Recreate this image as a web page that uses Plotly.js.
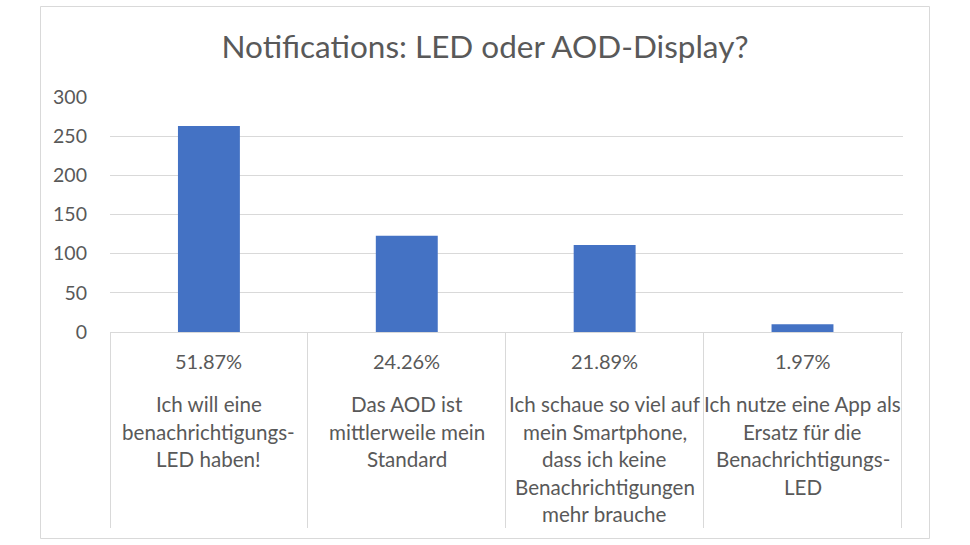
<!DOCTYPE html>
<html>
<head>
<meta charset="utf-8">
<script src="https://cdn.plot.ly/plotly-3.0.1.min.js"></script>
<style>
html,body{margin:0;padding:0;background:#fff;}
#chart{width:970px;height:545px;}
</style>
</head>
<body>
<div id="chart"></div>
<script>
const categories = [
  "Ich will eine<br>benachrichtigungs-<br>LED haben!",
  "Das AOD ist<br>mittlerweile mein<br>Standard",
  "Ich schaue so viel auf<br>mein Smartphone,<br>dass ich keine<br>Benachrichtigungen<br>mehr brauche",
  "Ich nutze eine App als<br>Ersatz für die<br>Benachrichtigungs-<br>LED"
];
const counts = [263, 123, 111, 10];
const percentLabels = ["51.87%", "24.26%", "21.89%", "1.97%"];
const yTicks = [0, 50, 100, 150, 200, 250, 300];

const FONT = "Lato, 'Open Sans', sans-serif";
const GREY = "#595959";
const LINE = "#d9d9d9";

// plot area in pixels
const L = 110, R = 903, T = 97, B = 332, W = 970, H = 545;
const ph = B - T, pw = R - L;
const py = (pix) => (B - pix) / ph;   // pixel y -> paper y
const px = (pix) => (pix - L) / pw;   // pixel x -> paper x

const annotations = [];
categories.forEach((c, i) => {
  annotations.push({
    x: i, xref: "x", y: py(361), yref: "paper",
    text: percentLabels[i], showarrow: false,
    xanchor: "center", yanchor: "middle",
    font: {family: FONT, size: 20, color: GREY}
  });
  c.split("<br>").forEach((line, j) => {
    annotations.push({
      x: i, xref: "x", y: py(404 + j * 27.5), yref: "paper",
      text: line, showarrow: false,
      xanchor: "center", yanchor: "middle",
      font: {family: FONT, size: 20.6, color: GREY}
    });
  });
});

const data = [{
  type: "bar",
  x: categories,
  y: counts,
  marker: {color: "#4472C4"},
  hoverinfo: "skip"
}];

const layout = {
  width: W, height: H,
  margin: {l: L, r: W - R, t: T, b: H - B, pad: 0},
  paper_bgcolor: "#fff", plot_bgcolor: "#fff",
  bargap: 0.687,
  showlegend: false,
  title: {
    text: "Notifications: LED oder AOD-Display?",
    x: 485 / W, xref: "container", xanchor: "center",
    y: 1 - 47 / H, yanchor: "middle",
    font: {family: FONT, size: 31.5, color: GREY}
  },
  xaxis: {
    type: "category",
    showticklabels: false,
    showgrid: false,
    zeroline: false,
    showline: true, linecolor: LINE, linewidth: 1,
    ticks: "outside", tickson: "boundaries",
    ticklen: 527 - B, tickcolor: LINE, tickwidth: 1,
    fixedrange: true
  },
  yaxis: {
    range: [0, 300],
    tickvals: yTicks,
    ticktext: yTicks.map(String),
    showgrid: true, gridcolor: LINE, gridwidth: 1,
    zeroline: false, showline: false,
    ticks: "", ticklabelstandoff: 22,
    tickfont: {family: FONT, size: 19.5, color: GREY},
    fixedrange: true
  },
  annotations: annotations,
  shapes: [{
    type: "rect", xref: "paper", yref: "paper",
    x0: px(40.5), x1: px(929.5), y0: py(538.5), y1: py(6.5),
    line: {color: LINE, width: 1}, fillcolor: "rgba(0,0,0,0)",
    layer: "below"
  }]
};

Plotly.newPlot("chart", data, layout, {displayModeBar: false, staticPlot: true});
</script>
</body>
</html>
